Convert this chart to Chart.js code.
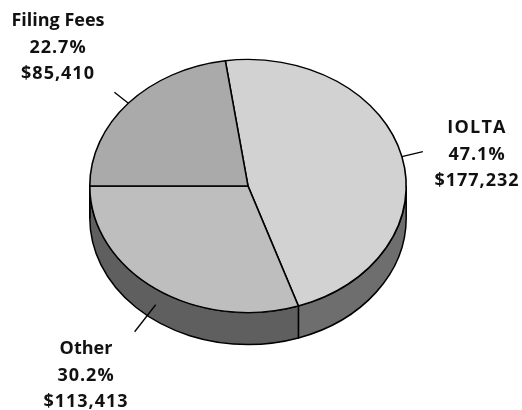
<!DOCTYPE html>
<html>
<head>
<meta charset="utf-8">
<style>
  html, body { margin: 0; padding: 0; background: #fff; }
  canvas { display: block; }
</style>
<script src="https://cdn.jsdelivr.net/npm/chart.js@4"></script>
</head>
<body>
<canvas id="chart" width="522" height="410"></canvas>
<script>
const categories = ['IOLTA', 'Other', 'Filing Fees'];
const amounts    = [177232, 113413, 85410];
const shares     = ['47.1%', '30.2%', '22.7%'];

const topColors  = ['#d2d2d2', '#bebebe', '#aaaaaa'];
const sideColors = ['#6e6e6e', '#5f5f5f', '#4c4c4c'];

const squash = 0.8;   // pie tilt: y radius / x radius
const depth  = 32;    // rim height

// label block: centre x, first baseline; leader: tip offset from the slice edge
const labelX      = [477, 86, 58];
const labelY      = [133, 354, 26];
const nameSpacing = [1.2, 0, 0];
const leaderTip   = [[21, -5], [-21, 27], [-14, -11]];
const leaderBase  = [0, 16, 0];

// ── Rim below the top face, only the part facing the viewer ──
const rimPlugin = {
  id: 'rim',
  beforeDatasetsDraw(chart) {
    const { ctx } = chart;
    const arcs = chart.getDatasetMeta(0).data;
    ctx.save();
    arcs.forEach((arc, i) => {
      const a = Math.max(arc.startAngle, 0);
      const b = Math.min(arc.endAngle, Math.PI);
      if (b <= a) return;
      const rx = arc.outerRadius, ry = rx * squash;
      ctx.beginPath();
      ctx.ellipse(arc.x, arc.y, rx, ry, 0, a, b);
      ctx.ellipse(arc.x, arc.y + depth, rx, ry, 0, b, a, true);
      ctx.closePath();
      ctx.fillStyle = sideColors[i];
      ctx.fill();
      ctx.strokeStyle = '#000';
      ctx.lineWidth = 1.5;
      ctx.stroke();
    });
    ctx.restore();

    // squash the library's own arcs into an ellipse
    const c = arcs[0];
    ctx.save();
    ctx.translate(c.x, c.y);
    ctx.scale(1, squash);
    ctx.translate(-c.x, -c.y);
  },
  afterDatasetsDraw(chart) {
    chart.ctx.restore();
  },
};

// ── Leader lines and three-line labels ──
const labelPlugin = {
  id: 'labels',
  afterDraw(chart) {
    const { ctx } = chart;
    chart.getDatasetMeta(0).data.forEach((arc, i) => {
      const mid = (arc.startAngle + arc.endAngle) / 2;
      const x = arc.x + arc.outerRadius * Math.cos(mid);
      const y = arc.y + arc.outerRadius * squash * Math.sin(mid) + leaderBase[i];
      ctx.beginPath();
      ctx.moveTo(x, y);
      ctx.lineTo(x + leaderTip[i][0], y + leaderTip[i][1]);
      ctx.strokeStyle = '#000';
      ctx.lineWidth = 1.3;
      ctx.stroke();

      ctx.fillStyle = '#111';
      ctx.font = '700 18px "Open Sans"';
      ctx.textAlign = 'center';
      ctx.textBaseline = 'alphabetic';
      const lines = [categories[i], shares[i], '$' + amounts[i].toLocaleString('en-US')];
      lines.forEach((t, k) => {
        ctx.letterSpacing = (k === 0 ? nameSpacing[i] : 1) + 'px';
        ctx.fillText(t, labelX[i], labelY[i] + k * 26.5);
      });
      ctx.letterSpacing = '0px';
    });
  },
};

new Chart(document.getElementById('chart'), {
  type: 'pie',
  data: {
    labels: categories,
    datasets: [{
      data: amounts,
      backgroundColor: topColors,
      borderColor: '#000',
      borderWidth: 1.6,
    }],
  },
  options: {
    responsive: false,
    animation: false,
    rotation: -8.24,
    layout: { padding: { left: 89, right: 115, top: 27, bottom: 65 } },
    plugins: { legend: { display: false }, tooltip: { enabled: false } },
  },
  plugins: [rimPlugin, labelPlugin],
});
</script>
</body>
</html>
